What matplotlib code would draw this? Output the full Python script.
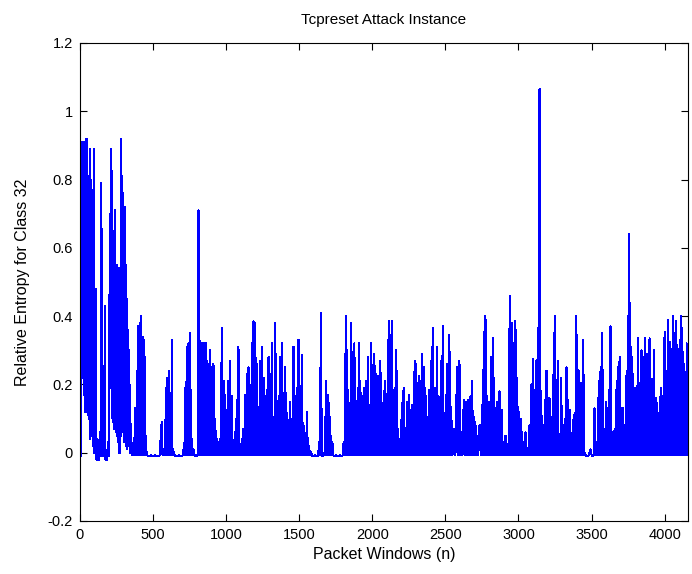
import numpy as np
import matplotlib
matplotlib.use('Agg')
import matplotlib.pyplot as plt
from matplotlib.ticker import FuncFormatter

plt.rcParams['font.family'] = ['Liberation Sans', 'DejaVu Sans']

baseline = -0.008

# packet window of each reading (roughly every 2 px)
n_win = [1, 9, 16, 23, 30, 39, 48, 57, 64, 71, 80, 87, 94, 100, 107, 116, 126, 135, 142, 146,
         155, 164, 169, 180, 192, 203, 208, 215, 219, 226, 233, 237, 244, 251, 258, 265, 272, 279,
         283, 290, 297, 306, 313, 320, 329, 337, 345,
         354, 365, 377, 388, 395, 404, 411, 418, 425, 434, 445, 452, 470, 500, 530, 559, 571, 580,
         587, 598, 610, 621, 628, 635, 660, 690, 715, 719, 731, 742, 753, 760, 765, 776, 787, 800,
         811, 817, 826, 836, 845, 854, 863, 868, 879, 890, 902, 913, 925, 936, 947, 959, 970, 982,
         993, 1005, 1016, 1027, 1039, 1050, 1062, 1073, 1084, 1096, 1107, 1119, 1130, 1142, 1153,
         1164, 1176, 1187, 1199, 1210, 1222, 1233, 1244, 1256, 1267, 1279, 1290, 1301, 1313, 1324,
         1336, 1347, 1359, 1370, 1381, 1393, 1404, 1416, 1427, 1438, 1450, 1461, 1473, 1484, 1495,
         1507, 1518, 1530, 1541, 1553, 1564, 1576, 1598, 1621, 1637, 1648, 1660, 1671, 1683, 1694,
         1705, 1719, 1728, 1740, 1765, 1790, 1804, 1815, 1822, 1831, 1842, 1856, 1868, 1877, 1890,
         1900, 1909, 1918, 1929, 1941, 1957, 1970, 1982, 1993, 2005, 2014, 2025, 2039, 2055, 2066,
         2078, 2089, 2100, 2112, 2123, 2135, 2146, 2158, 2164, 2176, 2187, 2196, 2208, 2217, 2226,
         2237, 2249, 2260, 2274, 2290, 2301, 2311, 2322, 2340, 2352, 2363, 2374, 2390, 2402, 2413,
         2427, 2443, 2454, 2470, 2482, 2493, 2511, 2527, 2539, 2557, 2580, 2596, 2607, 2626, 2642,
         2653, 2671, 2683, 2694, 2705, 2717, 2733, 2751, 2763, 2774, 2785, 2801, 2815, 2827, 2838,
         2854, 2870, 2884, 2900, 2911, 2922, 2941, 2957, 2968, 2979, 2991, 3002, 3014, 3025, 3037,
         3048, 3059, 3075, 3089, 3098, 3109, 3121, 3132, 3144, 3155, 3167, 3174, 3185, 3192, 3201,
         3212, 3224, 3231, 3242, 3251, 3260, 3269, 3281, 3292, 3304, 3311, 3322, 3329, 3338, 3349,
         3361, 3372, 3384, 3395, 3402, 3413, 3425, 3436, 3443, 3454, 3470, 3493, 3509, 3520, 3532,
         3550, 3562, 3573, 3584, 3600, 3619, 3630, 3642, 3658, 3672, 3680, 3692, 3703, 3715, 3726,
         3740, 3751, 3758, 3767, 3779, 3790, 3801, 3813, 3817, 3829, 3842, 3854, 3865, 3877, 3886,
         3897, 3904, 3916, 3927, 3938, 3950, 3961, 3973, 3984, 4000, 4011, 4025, 4036, 4045, 4057,
         4071, 4080, 4091, 4103, 4114, 4121, 4132, 4144, 4151, 4160]

# highest value in each reading
peak = [0.47, 0.91, 0.90, 0.91, 0.91, 0.92, 0.92, 0.81, 0.81, 0.89, 0.77, 0.77, 0.89, 0.48, 0.48,
        0.04, -0.01, 0.06, 0.06, 0.79, 0.00, 0.00, 0.43, 0.00, 0.03, 0.54, 0.70, 0.89, 0.80, 0.54,
        0.65, 0.71, 0.54, 0.55, 0.54, 0.54, 0.46, 0.86, 0.92, 0.81, 0.76, 0.72, 0.55, 0.45, 0.36,
        0.30, 0.09,
        0.02, 0.03, 0.13, 0.00, 0.37, 0.37, 0.38, 0.40, 0.145, 0.34, 0.28, 0.01, -0.01, -0.01, -0.01,
        0.09, 0.01, 0.00, 0.19, 0.22, 0.24, 0.07, 0.33, 0.01, -0.01, -0.01, 0.03, 0.19, 0.31, 0.32,
        0.35, 0.185, 0.04, 0.01, -0.01, -0.01,
        0.71, 0.35, 0.32, 0.32, 0.32, 0.32, 0.32, 0.27, 0.26, 0.30, 0.25, 0.26, 0.10, 0.04, 0.03,
        0.04, 0.365, 0.21, 0.17, 0.125, 0.21, 0.27, 0.165, 0.02, 0.06, 0.155, 0.31, 0.00, 0.04,
        0.07, 0.17, 0.23, 0.25, 0.195, 0.32, 0.385, 0.38, 0.26, 0.135, 0.27, 0.31, 0.22, 0.165,
        0.185, 0.28, 0.23, 0.32, 0.105, 0.38, 0.105, 0.165, 0.28, 0.32, 0.175, 0.25, 0.115, 0.095,
        0.15, 0.07, 0.31, 0.165, 0.19, 0.33, 0.195, 0.285, 0.08, 0.00, 0.12, 0.02, 0.005, -0.01,
        -0.01, 0.03, 0.41, -0.01, 0.00, 0.21, 0.17, 0.145, 0.05, 0.025, -0.01, -0.01, -0.01,
        0.03, 0.29, 0.40, 0.185, 0.145, 0.38, 0.175, 0.32, 0.095, 0.19, 0.32, 0.21, 0.165, 0.19,
        0.21, 0.28, 0.14, 0.32, 0.14, 0.29, 0.23, 0.225, 0.27, 0.13, 0.18, 0.21, 0.09, 0.385,
        0.345, 0.385, 0.05, 0.19, 0.30, 0.07, 0.04, 0.095, 0.18, 0.19, 0.05, 0.15, 0.17, 0.125,
        0.14, 0.27, 0.26, 0.175, 0.225, 0.29, 0.25, 0.19, 0.105, 0.185, 0.27, 0.365, 0.19, 0.31,
        0.165, 0.27, 0.37, 0.115, 0.26, 0.345, 0.135, 0.07, 0.25, 0.27, 0.06, 0.155, 0.15, 0.155,
        0.165, 0.21, 0.105, 0.09, 0.05, 0.08, 0.14, 0.355, 0.40, 0.165, 0.15, 0.28, 0.335, 0.13,
        0.15, 0.18, 0.125, 0.03, 0.05, 0.02, 0.46, 0.38, 0.32, 0.385, 0.22, 0.12, 0.10, 0.06,
        0.03, 0.06, 0.01, 0.08, 0.20, 0.275, 0.185, 0.27, 0.365, 1.065, 0.18, 0.00, 0.08, 0.155,
        0.24, 0.02, 0.16, 0.09, 0.105, 0.35, 0.40, 0.04, 0.27, 0.01, 0.22, 0.01, 0.08, 0.10, 0.25,
        0.155, 0.125, 0.04, 0.095, 0.115, 0.40, 0.345, 0.24, 0.205, 0.05, 0.33, 0.00, -0.01, 0.01,
        -0.01, 0.13, 0.03, 0.21, 0.25, 0.35, 0.07, 0.15, 0.185, 0.37, 0.06, 0.07, 0.21, 0.25,
        0.28, 0.13, 0.13, 0.08, 0.24, 0.40, 0.64, 0.31, 0.28, 0.175, 0.19, 0.195, 0.335, 0.205,
        0.30, 0.28, 0.335, 0.29, 0.28, 0.335, 0.185, 0.215, 0.30, 0.16, 0.145, 0.10, 0.19, 0.165,
        0.355, 0.24, 0.39, 0.325, 0.305, 0.40, 0.35, 0.385, 0.305, 0.33, 0.40, 0.365, 0.26, 0.00,
        0.32, 0.185]

# lowest value in each reading during the first burst; later readings drop to the baseline
low_start = [-0.01, 0.23, 0.22, 0.17, 0.12, 0.12, 0.11, 0.10, 0.04, 0.05, 0.05, 0.02, 0.00, 0.04,
             -0.02, -0.02, -0.02, -0.01, -0.01, -0.01, -0.01, -0.01, -0.02, -0.02, -0.01, 0.19,
             0.19, 0.12, 0.10, 0.09, 0.07, 0.07, 0.06, 0.05, 0.03, 0.00, 0.00, 0.05, 0.07, 0.06,
             0.03, 0.03, 0.02, 0.01, 0.02, 0.00, 0.00]

n_win = np.array(n_win, dtype=float)
peak = np.array(peak)
low = np.array(low_start + [baseline] * (len(peak) - len(low_start)))

# peak at each reading, dip to the low value half way to the next one
mid = np.append((n_win[:-1] + n_win[1:]) / 2, n_win[-1])
x = np.empty(2 * len(n_win))
y = np.empty(2 * len(n_win))
x[0::2] = n_win
x[1::2] = mid
y[0::2] = peak
y[1::2] = low
x = x[:-1]
y = y[:-1]

fig = plt.figure(figsize=(6.92, 5.74), dpi=100)
ax = fig.add_axes([80 / 692, 1 - 521 / 574, 608 / 692, 478 / 574])
ax.plot(x, y, color=(0, 0, 1), linewidth=0.8, antialiased=False)

ax.set_xlim(0, 4160)
ax.set_ylim(-0.2, 1.2)
ax.set_xticks(np.arange(0, 4001, 500))
ax.set_yticks(np.arange(-0.2, 1.21, 0.2))
ax.yaxis.set_major_formatter(FuncFormatter(lambda v, p: f"{round(v, 1):g}"))
ax.tick_params(direction='in', top=True, right=True, length=5, width=0.8,
               labelsize=10.5, pad=5)
for s in ax.spines.values():
    s.set_linewidth(0.8)

ax.set_title('Tcpreset Attack Instance', fontsize=11, pad=14)
ax.set_xlabel('Packet Windows (n)', fontsize=11.5, labelpad=4)
ax.set_ylabel('Relative Entropy for Class 32', fontsize=11.5, labelpad=13)

fig.savefig('out.png', dpi=100)
